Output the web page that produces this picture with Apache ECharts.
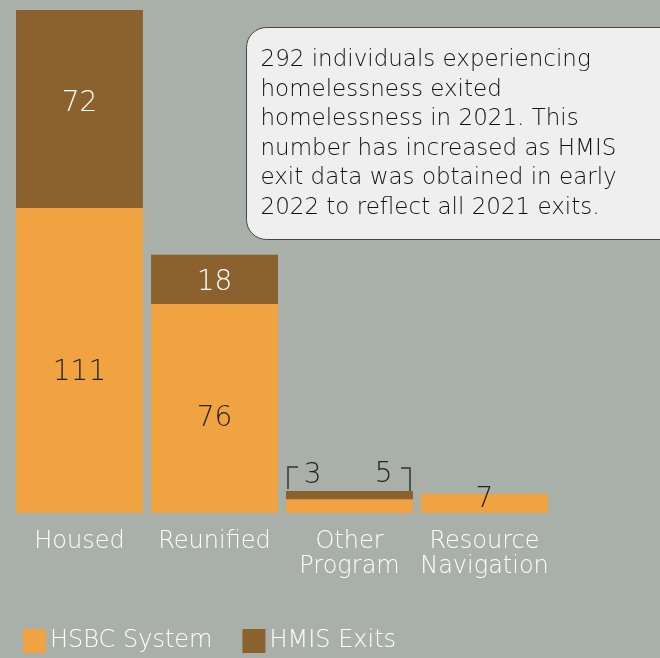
<!DOCTYPE html>
<html><head><meta charset="utf-8">
<script src="https://cdn.jsdelivr.net/npm/echarts@6/dist/echarts.min.js"></script>
<style>html,body{margin:0;padding:0;background:#a9b0a9}#c{width:660px;height:658px}</style>
</head><body><div id="c"></div>
<script>
var categories = ['Housed', 'Reunified', 'Other\nProgram', 'Resource\nNavigation'];
var hsbcSystem = [111, 76, 5, 7];
var hmisExits = [72, 18, 3, 0];
var seriesNames = ['HSBC System', 'HMIS Exits'];
var noteText = '292 individuals experiencing\nhomelessness exited\nhomelessness in 2021. This\nnumber has increased as HMIS\nexit data was obtained in early\n2022 to reflect all 2021 exits.';

var FONT = '"DejaVu Sans", "Open Sans", sans-serif';
var ORANGE = '#f0a340', BROWN = '#8b612d';
var chart = echarts.init(document.getElementById('c'), null, {renderer: 'canvas'});

var hsbcOffsets = [12, 10, 0, 0];
var hmisOffsets = [-5, 3, 0, 0];
var hsbcData = hsbcSystem.map(function (v, i) {
  var d = {value: v, label: {offset: [0, hsbcOffsets[i]]}};
  if (i === 2) {
    d.label = {show: true, position: ['77%', -25], align: 'center', verticalAlign: 'middle', color: '#222', fontSize: 28};
  } else if (i === 3) {
    d.label = {show: true, position: ['50%', 6], align: 'center', verticalAlign: 'middle', color: '#222', fontSize: 28};
  }
  return d;
});
var hmisData = hmisExits.map(function (v, i) {
  var d = {value: v === 0 ? null : v, label: {offset: [0, hmisOffsets[i]]}};
  if (i === 2) {
    d.label = {show: true, position: ['21%', -15], align: 'center', verticalAlign: 'middle', color: '#222', fontSize: 28};
  }
  return d;
});

chart.setOption({
  backgroundColor: '#a9b0a9',
  animation: false,
  grid: {left: 12, right: 108, top: 10, bottom: 145},
  xAxis: {
    type: 'category', data: categories,
    axisLine: {show: false}, axisTick: {show: false},
    axisLabel: {interval: 0, color: '#ffffff', fontSize: 24, fontFamily: FONT, fontWeight: 200, lineHeight: 25, margin: 16}
  },
  yAxis: {type: 'value', min: 0, max: 183, show: false, splitLine: {show: false}},
  legend: {
    left: 18, bottom: 0, icon: 'rect', itemWidth: 23, itemHeight: 24, itemGap: 30,
    textStyle: {color: '#ffffff', fontSize: 24, fontFamily: FONT, fontWeight: 200, padding: [0, 0, 0, -1]},
    data: seriesNames
  },
  series: [
    {
      name: seriesNames[0], type: 'bar', stack: 'total', data: hsbcData,
      barCategoryGap: '6%', itemStyle: {color: ORANGE},
      label: {show: true, position: 'inside', color: '#222', fontSize: 28, fontFamily: FONT, fontWeight: 200,
        formatter: function (p) { return p.value; }}
    },
    {
      name: seriesNames[1], type: 'bar', stack: 'total', data: hmisData,
      barCategoryGap: '6%', itemStyle: {color: BROWN},
      label: {show: true, position: 'inside', color: '#ffffff', fontSize: 28, fontFamily: FONT, fontWeight: 200,
        formatter: function (p) { return p.value; }}
    }
  ]
});

// brackets beside the "3" and "5" labels of Other Program, positioned through the axes
var base = chart.convertToPixel({seriesIndex: 0}, [2, 0]);
var topOrange = chart.convertToPixel({seriesIndex: 0}, [2, hsbcSystem[2]]);
var topAll = chart.convertToPixel({seriesIndex: 0}, [2, hsbcSystem[2] + hmisExits[2]]);
var halfW = 127 / 2;
var lx = base[0] - halfW + 2, rx = base[0] + halfW - 3;
chart.setOption({
  graphic: [
    {type: 'polyline', shape: {points: [[lx, topAll[1] - 2], [lx, topAll[1] - 24], [lx + 10, topAll[1] - 24]]},
      style: {stroke: '#333', lineWidth: 1.5, fill: null}},
    {type: 'polyline', shape: {points: [[rx - 9, topAll[1] - 23], [rx, topAll[1] - 23], [rx, topOrange[1]]]},
      style: {stroke: '#333', lineWidth: 1.5, fill: null}},
    {type: 'group', left: 246, top: 27, children: [
      {type: 'rect', shape: {x: 0, y: 0, width: 440, height: 212, r: 20},
        style: {fill: '#efefef', stroke: '#444', lineWidth: 1}},
      {type: 'text', x: 14, y: 18, style: {text: noteText, fill: '#111', fontSize: 23, fontFamily: FONT, fontWeight: 200, lineHeight: 29.5}}
    ]}
  ]
});
</script></body></html>
